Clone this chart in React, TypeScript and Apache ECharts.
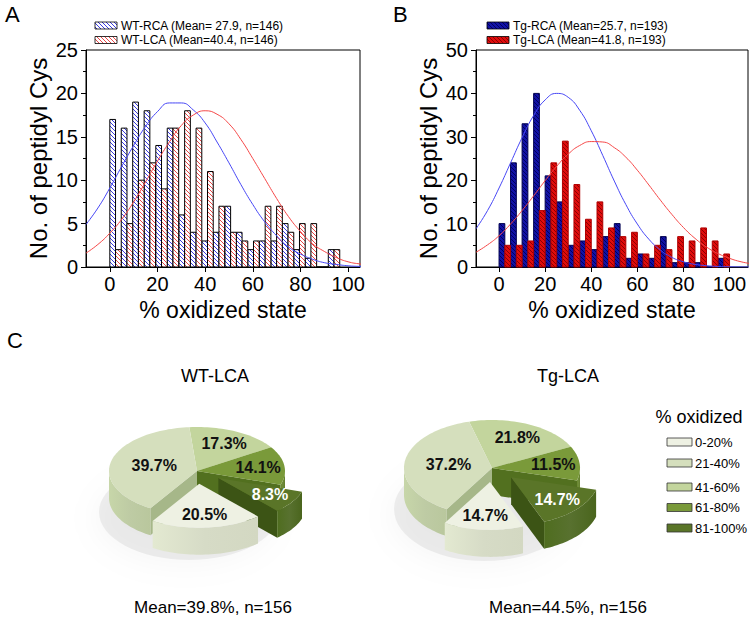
import React, { useEffect, useRef } from 'react';
import * as echarts from 'echarts';

// ---------- DATA ----------
// Panel A histogram (WT)
const aBinStart = [0, 4.8, 9.6, 14.4, 19.3, 24.1, 29.0, 33.8, 38.6, 43.4, 48.3, 53.1, 57.9, 62.8, 67.6, 72.4, 77.2, 82.0, 86.9, 91.7];
const aRCA = [17, 16, 19, 18, 14, 16, 6, 4, 3, 4, 7, 4, 2, 3, 3, 5, 2, 1, 0, 2];
const aLCA = [2, 5, 10, 12, 9, 16, 18, 16, 11, 7, 4, 3, 3, 7, 7, 4, 5, 5, 0, 2];
// Panel B histogram (Tg)
const bBinStart = [0, 5, 10, 15, 20, 25, 30, 35, 40, 45, 50, 55, 60, 65, 70, 75, 80, 85, 90, 95];
const bRCA = [10, 24, 33, 40, 21, 15, 5, 6, 4, 7, 10, 2, 3, 2, 7, 1, 1, 1, 0, 2];
const bLCA = [5, 5, 6, 13, 24, 29, 19, 11, 15, 9, 7, 8, 3, 5, 4, 7, 6, 9, 6, 3];
// fitted curves
const fitX = [-10, -5, 0, 5, 10, 15, 20, 25, 30, 35, 40, 45, 50, 55, 60, 65, 70, 75, 80, 85, 90, 95, 100, 105, 110];
const aRCAFit = [4.9, 6.8, 9.1, 11.6, 14.0, 16.2, 17.9, 18.9, 18.9, 18.1, 16.6, 14.4, 12.0, 9.5, 7.2, 5.2, 3.6, 2.3, 1.5, 0.9, 0.5, 0.3, 0.14, 0.07, 0.03];
const aLCAFit = [1.6, 2.6, 3.9, 5.5, 7.5, 9.8, 12.2, 14.4, 16.3, 17.5, 18.0, 17.6, 16.5, 14.7, 12.5, 10.2, 7.9, 5.8, 4.1, 2.7, 1.8, 1.1, 0.6, 0.35, 0.2];
const bRCAFit = [8.8, 13.0, 18.2, 24.0, 29.8, 34.9, 38.5, 40.0, 39.1, 36.1, 31.4, 25.7, 19.8, 14.4, 9.9, 6.4, 3.9, 2.2, 1.2, 0.6, 0.3, 0.12, 0.05, 0.02, 0.01];
const bLCAFit = [3.4, 5.1, 7.2, 9.9, 13.0, 16.4, 19.9, 23.2, 26.0, 28.0, 28.9, 28.8, 27.5, 25.3, 22.3, 18.9, 15.4, 12.1, 9.1, 6.6, 4.6, 3.1, 2.0, 1.2, 0.7];
const xTicks = [0, 20, 40, 60, 80, 100];
const legendA = ['WT-RCA (Mean= 27.9, n=146)', 'WT-LCA (Mean=40.4, n=146)'];
const legendB = ['Tg-RCA (Mean=25.7, n=193)', 'Tg-LCA (Mean=41.8, n=193)'];
// Panel C pies
const oxLevels = ['0-20%', '21-40%', '41-60%', '61-80%', '81-100%'];
const wtLca = [20.5, 39.7, 17.3, 14.1, 8.3];
const tgLca = [14.7, 37.2, 21.8, 11.5, 14.7];
const pieTitles = ['WT-LCA', 'Tg-LCA'];
const pieNotes = ['Mean=39.8%, n=156', 'Mean=44.5%, n=156'];

// ---------- STYLE ----------
const FONT = '"Liberation Sans", Arial, Helvetica, sans-serif';
const topCol = ['#eef1e3', '#d5dfbd', '#c3d59d', '#7a9a3a', '#5a7528'];
const wallCol = ['#d3d8c2', '#b9c79d', '#a8bc80', '#63802b', '#4a651d'];
const faceCol = ['#c4c9b0', '#a6b789', '#93a96c', '#52701f', '#3c5415'];
const sliceOrder = [2, 3, 4, 0, 1];
const exploded = [0, 4];

function hatch(bg: string, fg: string, size = 4) {
  const c = document.createElement('canvas');
  c.width = size;
  c.height = size;
  const ctx = c.getContext('2d')!;
  ctx.fillStyle = bg;
  ctx.fillRect(0, 0, size, size);
  ctx.fillStyle = fg;
  for (let i = 0; i < size; i++) ctx.fillRect(i, i, 1, 1);
  return { image: c.toDataURL(), repeat: 'repeat', imageWidth: size, imageHeight: size } as any;
}

function barRender(width: number, offset: number, fill: any, stroke: string) {
  return (params: any, api: any) => {
    const x0 = api.value(0) + offset;
    const y = api.value(1);
    const p0 = api.coord([x0, y]);
    const p1 = api.coord([x0 + width, 0]);
    return {
      type: 'rect',
      shape: { x: p0[0], y: p0[1], width: p1[0] - p0[0], height: p1[1] - p0[1] },
      style: { fill, stroke, lineWidth: 1 },
    };
  };
}

type PieCfg = { cx: number; cy: number; rx: number; ry: number; h: number; start: number; explode: number };

function pieRender(values: number[], cfg: PieCfg) {
  const total = values.reduce((s, v) => s + v, 0);
  const starts: number[] = [];
  let acc = cfg.start;
  for (const i of sliceOrder) {
    starts[i] = acc;
    acc += (values[i] / total) * 360;
  }
  const rad = (d: number) => (d * Math.PI) / 180;
  return (params: any, api: any) => {
    const i = params.dataIndex;
    const v = api.value(0);
    const a0 = starts[i];
    const a1 = a0 + (v / total) * 360;
    const mid = (a0 + a1) / 2;
    const isEx = exploded.includes(i);
    const ex = isEx ? cfg.explode : 0;
    const cx = cfg.cx + ex * cfg.rx * Math.sin(rad(mid));
    const cy = cfg.cy - ex * cfg.ry * Math.cos(rad(mid));
    const h = cfg.h;
    const P = (a: number, dy = 0) => [cx + cfg.rx * Math.sin(rad(a)), cy - cfg.ry * Math.cos(rad(a)) + dy];
    const arc = (s: number, e: number, dy = 0) => {
      const pts: number[][] = [];
      const n = Math.max(2, Math.ceil((e - s) / 2));
      for (let k = 0; k <= n; k++) pts.push(P(s + ((e - s) * k) / n, dy));
      return pts;
    };
    const depth = -Math.cos(rad(mid)) + ex * 1.5;
    const zb = Math.round((depth + 2) * 20) * 4;
    const children: any[] = [];
    const pos = sliceOrder.indexOf(i);
    const prev = sliceOrder[(pos + sliceOrder.length - 1) % sliceOrder.length];
    const next = sliceOrder[(pos + 1) % sliceOrder.length];
    if (Math.sin(rad(a0)) < 0 && (isEx || exploded.includes(prev))) {
      children.push({ type: 'polygon', z2: zb, shape: { points: [[cx, cy], P(a0), P(a0, h), [cx, cy + h]] }, style: { fill: faceCol[i] } });
    }
    if (Math.sin(rad(a1)) > 0 && (isEx || exploded.includes(next))) {
      children.push({ type: 'polygon', z2: zb, shape: { points: [[cx, cy], P(a1), P(a1, h), [cx, cy + h]] }, style: { fill: faceCol[i] } });
    }
    const s = Math.max(a0, 90);
    const e = Math.min(a1, 270);
    if (e > s) {
      const pl = P(s), pr = P(e);
      children.push({
        type: 'polygon', z2: zb + 1,
        shape: { points: [...arc(s, e), ...arc(s, e, h).reverse()] },
        style: {
          fill: {
            type: 'linear', x: pl[0], y: 0, x2: pr[0], y2: 0, global: true,
            colorStops: [
              { offset: 0, color: wallCol[i] },
              { offset: 0.5, color: echarts.color.lift(wallCol[i], 0.08) },
              { offset: 1, color: echarts.color.lift(wallCol[i], -0.08) },
            ],
          },
        },
      });
    }
    children.push({ type: 'polygon', z2: zb + 2, shape: { points: [[cx, cy], ...arc(a0, a1)] }, style: { fill: topCol[i] } });
    const f = v > 30 ? 0.5 : 0.7;
    children.push({
      type: 'text', z2: 1000,
      style: {
        text: v.toFixed(1) + '%',
        x: cx + f * cfg.rx * Math.sin(rad(mid)),
        y: cy - f * cfg.ry * Math.cos(rad(mid)),
        align: 'center', verticalAlign: 'middle', textAlign: 'center', textVerticalAlign: 'middle',
        font: `bold 16px ${FONT}`,
        fill: i === 4 ? '#ffffff' : '#111111',
      },
    });
    return { type: 'group', children };
  };
}

function txt(text: string, x: number, y: number, size: number, align = 'left', extra: any = {}) {
  return {
    type: 'text',
    style: {
      text, x, y, font: `${size}px ${FONT}`, fill: '#000',
      align, verticalAlign: 'middle', textAlign: align, textVerticalAlign: 'middle', ...extra,
    },
  };
}

export default function App() {
  const ref = useRef<HTMLDivElement>(null);
  useEffect(() => {
    document.body.style.margin = '0';
    const chart = echarts.init(ref.current!, undefined, { renderer: 'svg' });
    const pA1 = hatch('#ffffff', '#3b3be0');
    const pA2 = hatch('#ffffff', '#e84848');
    const pB1 = hatch('#1212a6', '#00005e');
    const pB2 = hatch('#e00c0c', '#8c0000');

    const axisCommon = {
      axisLine: { show: true, onZero: false, lineStyle: { color: '#000', width: 1 } },
      splitLine: { show: false },
    };
    const xAxis = [105, 108].map((mx, gi) => ({
      gridIndex: gi, type: 'value', min: -10, max: mx, ...axisCommon,
      axisTick: { show: true, inside: false, length: 5, customValues: xTicks, lineStyle: { color: '#000' } },
      axisLabel: { customValues: xTicks, fontSize: 20, color: '#000', margin: 7, fontFamily: FONT },
      name: '% oxidized state', nameLocation: 'middle', nameGap: 31,
      nameTextStyle: { fontSize: 23, color: '#000', fontFamily: FONT },
    }));
    const yAxis = [25, 50].map((mx, gi) => ({
      gridIndex: gi, type: 'value', min: 0, max: mx, interval: mx / 5, ...axisCommon,
      axisTick: { show: true, inside: false, length: 5, lineStyle: { color: '#000' } },
      minorTick: { show: true, splitNumber: 2, length: 3, lineStyle: { color: '#000' } },
      minorSplitLine: { show: false },
      axisLabel: { fontSize: 20, color: '#000', margin: 8, fontFamily: FONT },
      name: 'No. of peptidyl Cys', nameLocation: 'middle', nameGap: 36,
      nameTextStyle: { fontSize: 24, color: '#000', fontFamily: FONT },
    }));

    const aW = 2.4;
    const bW = 2.5;
    const line = (gi: number, ys: number[], color: string) => ({
      type: 'line', xAxisIndex: gi, yAxisIndex: gi, smooth: true, showSymbol: false, symbol: 'none',
      data: fitX.map((x, k) => [x, ys[k]]), lineStyle: { color, width: 1 }, z: 5,
    });

    const pieCfgs: PieCfg[] = [
      { cx: 197, cy: 471, rx: 88, ry: 44, h: 27, start: -5, explode: 0.29 },
      { cx: 492, cy: 468, rx: 88, ry: 48, h: 27, start: -15, explode: 0.29 },
    ];
    const legendRowY = [442, 463, 487, 507.5, 528];

    const graphic: any[] = [
      txt('A', 5, 14, 22),
      txt('B', 393, 14, 22),
      txt('C', 7, 340, 22),
    ];
    [[legendA, [pA1, pA2], 95], [legendB, [pB1, pB2], 487]].forEach(([labels, pats, lx]: any) => {
      labels.forEach((t: string, k: number) => {
        const y = k === 0 ? 22 : 36.5;
        graphic.push({ type: 'rect', shape: { x: lx, y, width: 22, height: 7 }, style: { fill: pats[k], stroke: '#000', lineWidth: 0.8 } });
        graphic.push(txt(t, lx + 26, y + 3.5, 12));
      });
    });
    pieCfgs.forEach((c, k) => {
      graphic.push({
        type: 'ellipse', z: -1,
        shape: { cx: c.cx - 8, cy: c.cy + c.h + 14, rx: c.rx + 2, ry: c.ry + 4 },
        style: { fill: 'rgba(0,0,0,0.06)', shadowBlur: 26, shadowColor: 'rgba(0,0,0,0.5)', shadowOffsetX: -4, shadowOffsetY: 6 },
      });
      graphic.push(txt(pieTitles[k], k === 0 ? 215 : 568, 376, 18, 'center'));
      graphic.push(txt(pieNotes[k], k === 0 ? 213 : 568, 607, 17, 'center'));
    });
    graphic.push(txt('% oxidized', 699, 417, 18, 'center'));
    oxLevels.forEach((t, k) => {
      graphic.push({ type: 'rect', shape: { x: 667, y: legendRowY[k] - 4, width: 25, height: 8 }, style: { fill: topCol[k], stroke: '#333', lineWidth: 0.8 } });
      graphic.push(txt(t, 695, legendRowY[k], 13));
    });

    chart.setOption({
      animation: false,
      textStyle: { fontFamily: FONT },
      grid: [
        { left: 86, top: 50, width: 274, height: 217, show: true, borderColor: '#000', borderWidth: 1, outerBoundsMode: 'none' },
        { left: 476, top: 50, width: 272, height: 217, show: true, borderColor: '#000', borderWidth: 1, outerBoundsMode: 'none' },
      ],
      xAxis,
      yAxis,
      graphic,
      series: [
        { type: 'custom', xAxisIndex: 0, yAxisIndex: 0, data: aBinStart.map((s, k) => [s, aRCA[k]]), renderItem: barRender(aW, 0, pA1, '#000') },
        { type: 'custom', xAxisIndex: 0, yAxisIndex: 0, data: aBinStart.map((s, k) => [s, aLCA[k]]), renderItem: barRender(aW, aW, pA2, '#000') },
        { type: 'custom', xAxisIndex: 1, yAxisIndex: 1, data: bBinStart.map((s, k) => [s, bRCA[k]]), renderItem: barRender(bW, 0, pB1, '#000050') },
        { type: 'custom', xAxisIndex: 1, yAxisIndex: 1, data: bBinStart.map((s, k) => [s, bLCA[k]]), renderItem: barRender(bW, bW, pB2, '#b00000') },
        line(0, aRCAFit, '#4747f5'),
        line(0, aLCAFit, '#f54747'),
        line(1, bRCAFit, '#4747f5'),
        line(1, bLCAFit, '#f54747'),
        { type: 'custom', coordinateSystem: 'none', data: wtLca, renderItem: pieRender(wtLca, pieCfgs[0]) },
        { type: 'custom', coordinateSystem: 'none', data: tgLca, renderItem: pieRender(tgLca, pieCfgs[1]) },
      ],
    });
    return () => chart.dispose();
  }, []);
  return <div ref={ref} style={{ width: 755, height: 623 }} />;
}
